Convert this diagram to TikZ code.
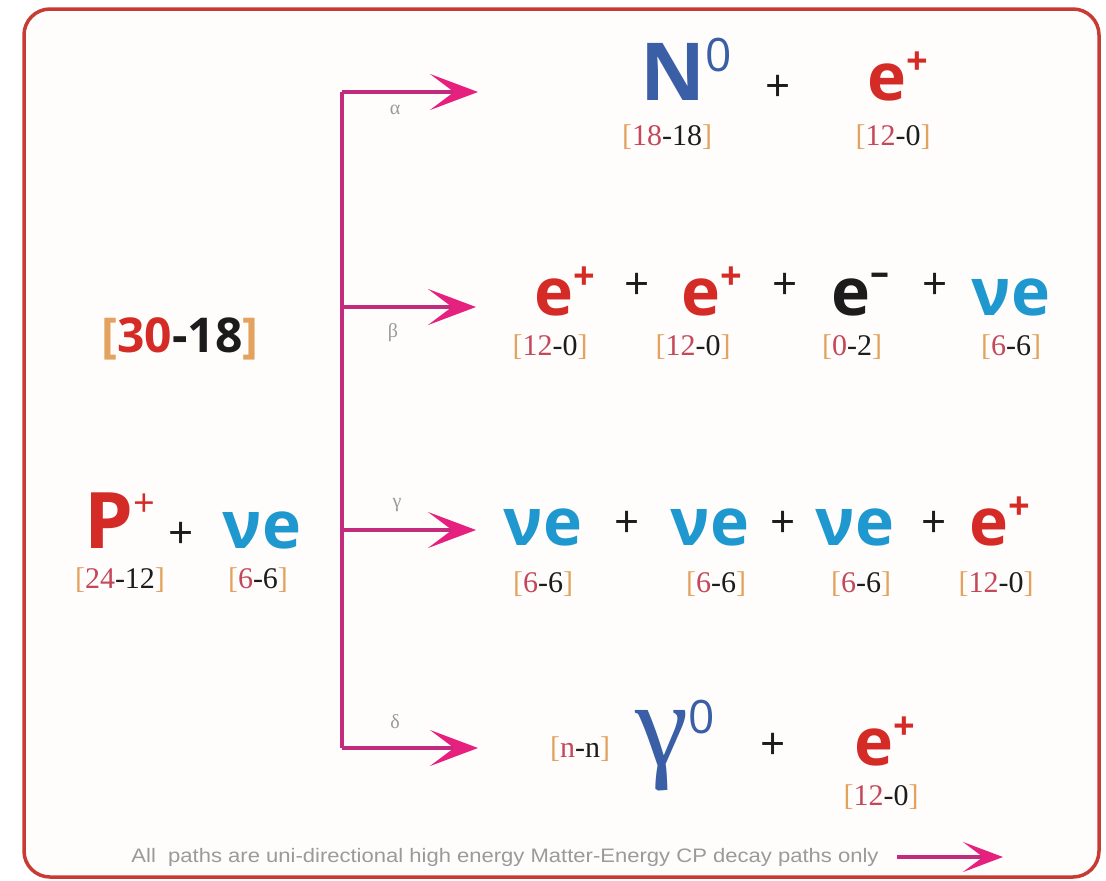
\documentclass[tikz,border=0pt]{standalone}
\usepackage{fontspec}
\usetikzlibrary{arrows.meta}
\setmainfont{Liberation Serif}
\newfontfamily\partfont{Open Sans}
\newfontfamily\notefont{Liberation Sans}
\definecolor{cred}{HTML}{D42B27}
\definecolor{cblue}{HTML}{3A5FA6}
\definecolor{ccyan}{HTML}{1E98CE}
\definecolor{corange}{HTML}{E3A25E}
\definecolor{cpink}{HTML}{C4475A}
\definecolor{cink}{HTML}{1C1C1C}
\definecolor{cmag}{HTML}{C22C7C}
\definecolor{chead}{HTML}{E5207E}
\definecolor{cframe}{HTML}{C73B33}
\definecolor{cgrey}{HTML}{9A9A9A}
% bracket pair and raised charge
\newcommand\brk[2]{{\color{corange}[}{\color{cpink}#1}{\color{cink}-#2}{\color{corange}]}}
\newcommand\chg[2][26pt]{\raisebox{#1}{\fontsize{38}{38}\selectfont #2}}
\tikzset{
  every picture/.style={line width=1.2pt},
  fs/.style={font=\partfont\bfseries\fontsize{#1}{#1}\selectfont},
  ptc/.style={anchor=base, inner sep=0pt, text=#1, fs=66},
  brk/.style={anchor=base, inner sep=0pt, font=\fontsize{30}{30}\selectfont},
  plus/.style={inner sep=0pt, text=cink, font=\partfont\fontsize{44}{44}\selectfont},
  arr/.style={draw=cmag, line width=4.5pt, -{Stealth[length=48pt, width=36pt, inset=24pt, color=chead]}},
  trunk/.style={draw=cmag, line width=4.5pt},
  tag/.style={inner sep=0pt, text=cgrey, font=\fontsize{20}{20}\selectfont},
}

\begin{document}
\begin{tikzpicture}[x=1pt, y=-1pt]
  \useasboundingbox[fill=white] (0,0) rectangle (1106,881);
  \draw[cframe, line width=3.5pt, rounded corners=26pt, fill={rgb,255:red,254;green,253;blue,251}] (24,9) rectangle (1099,877);

  % incoming side
  \node[anchor=base, inner sep=0pt, fs=48] (sum) at (180,352) {\brk{\color{cred}30}{18}};
  \node[ptc=cred, fs=78] (p) at (120,548) {P\chg[32pt]{\mdseries +}};
  \node[plus] (pp) at (181,535) {+};
  \node[ptc=ccyan] (nu) at (262,548) {νe};
  \node[brk] (pb) at (120,588) {\brk{24}{12}};
  \node[brk] (nub) at (258,588) {\brk{6}{6}};

  % branching paths
  \coordinate (ja) at (342,92);
  \coordinate (jb) at (342,307);
  \coordinate (jc) at (342,530);
  \coordinate (jd) at (342,748);
  \coordinate (ka) at (478,92);
  \coordinate (kb) at (476,307);
  \coordinate (kc) at (476,530);
  \coordinate (kd) at (478,748);
  \draw[trunk] (ja) -- (jd);
  \draw[arr] (ja) -- (ka);
  \draw[arr] (jb) -- (kb);
  \draw[arr] (jc) -- (kc);
  \draw[arr] (jd) -- (kd);
  \node[tag] (ta) at (395,110) {α};
  \node[tag] (tb) at (393,333) {β};
  \node[tag] (tc) at (397,505) {γ};
  \node[tag] (td) at (395,722) {δ};

  % alpha
  \node[ptc=cblue, fs=80] (a1) at (686,100) {N\chg[29pt]{\mdseries\fontsize{46}{46}\selectfont 0}};
  \node[plus] (ap) at (778,88) {+};
  \node[ptc=cred] (a2) at (898,100) {e\chg{+}};
  \node[brk] (a1b) at (667,145) {\brk{18}{18}};
  \node[brk] (a2b) at (893,145) {\brk{12}{0}};

  % beta
  \node[ptc=cred] (b1) at (565,315) {e\chg{+}};
  \node[plus] (bp1) at (637,286) {+};
  \node[ptc=cred] (b2) at (712,315) {e\chg{+}};
  \node[plus] (bp2) at (785,286) {+};
  \node[ptc=cink] (b3) at (860,315) {e\chg[30pt]{–}};
  \node[plus] (bp3) at (935,286) {+};
  \node[ptc=ccyan] (b4) at (1011,315) {νe};
  \node[brk] (b1b) at (550,355) {\brk{12}{0}};
  \node[brk] (b2b) at (693,355) {\brk{12}{0}};
  \node[brk] (b3b) at (852,355) {\brk{0}{2}};
  \node[brk] (b4b) at (1011,355) {\brk{6}{6}};

  % gamma
  \node[ptc=ccyan] (c1) at (543,545) {νe};
  \node[plus] (cp1) at (627,524) {+};
  \node[ptc=ccyan] (c2) at (710,545) {νe};
  \node[plus] (cp2) at (783,524) {+};
  \node[ptc=ccyan] (c3) at (855,545) {νe};
  \node[plus] (cp3) at (934,524) {+};
  \node[ptc=cred] (c4) at (1000,545) {e\chg{+}};
  \node[brk] (c1b) at (543,592) {\brk{6}{6}};
  \node[brk] (c2b) at (716,592) {\brk{6}{6}};
  \node[brk] (c3b) at (861,592) {\brk{6}{6}};
  \node[brk] (c4b) at (996,592) {\brk{12}{0}};

  % delta
  \node[brk] (d1b) at (580,757) {\brk{n}{n}};
  \node[anchor=base, inner sep=0pt, text=cblue, font=\fontsize{120}{120}\selectfont] (d1) at (675,765) {γ\chg[32pt]{\partfont\fontsize{46}{46}\selectfont 0}};
  \node[plus] (dp) at (773,746) {+};
  \node[ptc=cred] (d2) at (885,765) {e\chg{+}};
  \node[brk] (d2b) at (881,805) {\brk{12}{0}};

  % footnote
  \node[inner sep=0pt, text=cgrey, xscale=1.13, font=\notefont\fontsize{19.5}{19.5}\selectfont] (note) at (505,857) {All~ paths are uni-directional high energy Matter-Energy CP decay paths only};
  \coordinate (na) at (897,857);
  \coordinate (nb) at (1003,857);
  \draw[draw=cmag, line width=4pt, -{Stealth[length=40pt, width=30pt, inset=20pt, color=chead]}] (na) -- (nb);
\end{tikzpicture}
\end{document}
